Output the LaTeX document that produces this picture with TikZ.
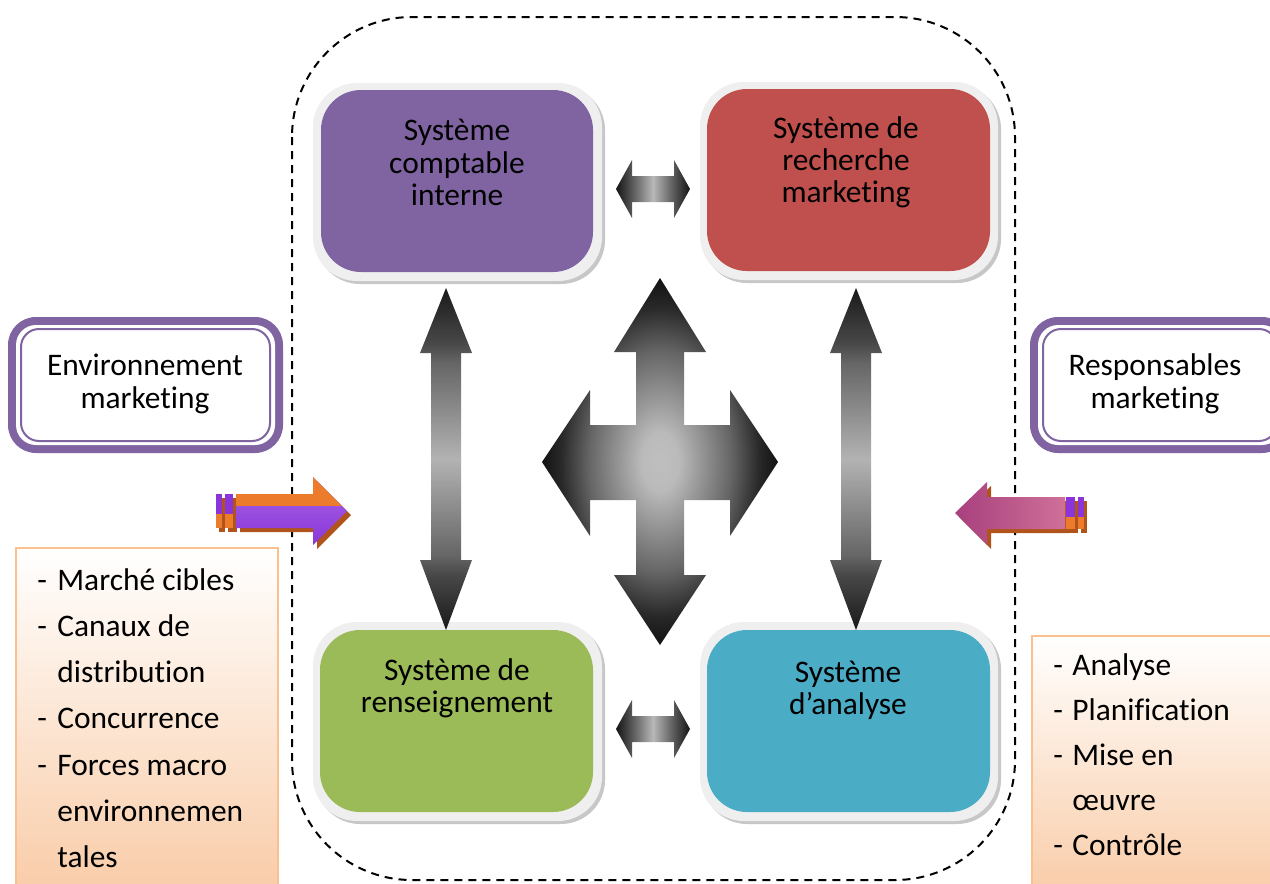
\documentclass[tikz,border=0pt]{standalone}
\usepackage{fontspec}
\setmainfont{Carlito}[Ligatures={TeX,NoCommon}]
\newcommand\lblfont{\fontsize{15.7}{16}\selectfont}
\definecolor{cpurple}{HTML}{8064A2}
\definecolor{cred}{HTML}{C0504D}
\definecolor{cgreen}{HTML}{9BBB59}
\definecolor{cblue}{HTML}{4BACC6}
\definecolor{corangeb}{HTML}{FAC090}
\definecolor{cpeach}{HTML}{F9CBA6}
\definecolor{arrorange}{HTML}{EC7C2C}
\definecolor{arrpurple}{HTML}{8A35DA}
\definecolor{arrshadow}{HTML}{B0541C}
\definecolor{arrpinkd}{HTML}{A8407E}
\definecolor{arrpinkl}{HTML}{CF7098}
\definecolor{rimgray}{HTML}{EFEFEF}
\pgfdeclareradialshading{crossshade}{\pgfpoint{0bp}{0bp}}{color(0bp)=(black!25); color(4bp)=(black!27); color(15bp)=(black!60); color(21bp)=(black!84); color(25bp)=(black!93); color(50bp)=(black!93)}
\pgfdeclareverticalshading{vsh}{100bp}{color(0bp)=(black!90); color(25bp)=(black!90); color(33bp)=(black!72); color(36bp)=(black!60); color(50bp)=(black!30); color(64bp)=(black!60); color(67bp)=(black!72); color(75bp)=(black!90); color(100bp)=(black!90)}
\pgfdeclarehorizontalshading{hsh}{100bp}{color(0bp)=(black!92); color(25bp)=(black!92); color(36bp)=(black!65); color(50bp)=(black!28); color(64bp)=(black!65); color(75bp)=(black!92); color(100bp)=(black!92)}
\tikzset{
  lbl/.style={font=\lblfont, inner sep=0pt, anchor=base},
  itm/.style={font=\lblfont, inner sep=0pt, anchor=base west},
  rimbox/.style={fill=rimgray, rounded corners=22pt},
  rimshadow/.style={fill=black!22, rounded corners=22pt},
  sysbox/.style={rounded corners=20pt},
  vshade/.style={shading=vsh},
  hshade/.style={shading=hsh},
  dashedframe/.style={line width=1pt, dash pattern=on 4pt off 3pt, rounded corners=60pt},
  listbox/.style={draw=corangeb, line width=1pt, top color=white, bottom color=cpeach},
}
\begin{document}
\begin{tikzpicture}[x=0.5pt,y=-0.5pt]
\useasboundingbox (0,0) rectangle (1270,884);

% dashed frame
\draw[dashedframe] (292,17) rectangle (1015,880);

% system boxes
\fill[rimshadow] (316,86) rectangle (605,284);
\fill[rimbox] (313,83) rectangle (602,281);
\fill[sysbox, fill=cpurple] (321,90) rectangle (593,272);

\fill[rimshadow] (703,85) rectangle (1001,283);
\fill[rimbox] (700,82) rectangle (998,280);
\fill[sysbox, fill=cred] (707,89) rectangle (990,271);

\fill[rimshadow] (316,625) rectangle (605,824);
\fill[rimbox] (313,622) rectangle (602,821);
\fill[sysbox, fill=cgreen] (320,630) rectangle (593,812);

\fill[rimshadow] (703,625) rectangle (1001,824);
\fill[rimbox] (700,622) rectangle (998,821);
\fill[sysbox, fill=cblue] (707,630) rectangle (990,812);

\node[lbl] (p1) at (457,140) {Système};
\node[lbl] (p2) at (457,173) {comptable};
\node[lbl] (p3) at (457,205) {interne};
\node[lbl] (r1) at (846,138.5) {Système de};
\node[lbl] (r2) at (846,170.5) {recherche};
\node[lbl] (r3) at (846,202.5) {marketing};
\node[lbl] (g1) at (457,680.5) {Système de};
\node[lbl] (g2) at (457,712.5) {renseignement};
\node[lbl] (b1) at (848,682.5) {Système};
\node[lbl] (b2) at (848,714.5) {d’analyse};

% vertical double arrows
\foreach \cx in {446,856}{
  \shade[vshade] (\cx,288) -- ({\cx+26},353) -- ({\cx+15},353) -- ({\cx+15},560) -- ({\cx+26},560) -- (\cx,630)
    -- ({\cx-26},560) -- ({\cx-15},560) -- ({\cx-15},353) -- ({\cx-26},353) -- cycle;
}
% small horizontal double arrows
\foreach \cy in {189,729}{
  \shade[hshade] (616,\cy) -- (632,{\cy-29}) -- (632,{\cy-13}) -- (674,{\cy-13}) -- (674,{\cy-29}) -- (690,\cy)
    -- (674,{\cy+29}) -- (674,{\cy+13}) -- (632,{\cy+13}) -- (632,{\cy+29}) -- cycle;
}
% four-way arrow
\shade[shading=crossshade] (660,278) -- (706,352) -- (684,352) -- (684,425) -- (730,425) -- (730,390) -- (778,462)
  -- (730,536) -- (730,500) -- (684,500) -- (684,575) -- (706,575) -- (660,645) -- (614,575) -- (636,575)
  -- (636,500) -- (590,500) -- (590,536) -- (542,462) -- (590,390) -- (590,425) -- (636,425) -- (636,352)
  -- (614,352) -- cycle;

% environment box
\fill[cpurple, rounded corners=14pt] (8,317) rectangle (283,453);
\fill[white, rounded corners=10pt] (16,325) rectangle (275,445);
\draw[cpurple, line width=1pt, rounded corners=9pt] (21,329) rectangle (270,441);
\node[lbl] (e1) at (145,375) {Environnement};
\node[lbl] (e2) at (145,408) {marketing};

% responsables box
\fill[cpurple, rounded corners=14pt] (1030,317) rectangle (1290,453);
\fill[white, rounded corners=10pt] (1038,325) rectangle (1282,445);
\draw[cpurple, line width=1pt, rounded corners=9pt] (1043,329) rectangle (1277,441);
\node[lbl] (s1) at (1155,375) {Responsables};
\node[lbl] (s2) at (1155,408) {marketing};

% list boxes
\shade[listbox] (16,548) rectangle (278,900);
\node[itm] (l1) at (37,590) {\makebox[10pt][l]{-}Marché cibles};
\node[itm] (l2) at (37,636.3) {\makebox[10pt][l]{-}Canaux de};
\node[itm] (l3) at (57,682.6) {distribution};
\node[itm] (l4) at (37,728.9) {\makebox[10pt][l]{-}Concurrence};
\node[itm] (l5) at (37,775.2) {\makebox[10pt][l]{-}Forces macro};
\node[itm] (l6) at (57,821.5) {environnemen};
\node[itm] (l7) at (57,867.8) {tales};

\shade[listbox] (1032,636) rectangle (1290,900);
\node[itm] (m1) at (1053,675) {\makebox[9.5pt][l]{-}Analyse};
\node[itm] (m2) at (1053,720) {\makebox[9.5pt][l]{-}Planification};
\node[itm] (m3) at (1053,765) {\makebox[9.5pt][l]{-}Mise en};
\node[itm] (m4) at (1072,810) {œuvre};
\node[itm] (m5) at (1053,855) {\makebox[9.5pt][l]{-}Contrôle};

% left input arrow
\fill[arrshadow] (240,498) -- (317,498) -- (317,481) -- (351,515) -- (317,549) -- (317,532) -- (240,532) -- cycle;
\fill[arrshadow] (219,498) rectangle (225,532);
\fill[arrshadow] (228,498) rectangle (237,532);
\shade[top color=arrpurple!75!white, bottom color=arrpurple] (236,494) -- (313,494) -- (313,477) -- (347,511) -- (313,545) -- (313,528) -- (236,528) -- cycle;
\begin{scope}
  \clip (200,470) rectangle (360,505);
  \fill[arrorange] (236,494) -- (313,494) -- (313,477) -- (347,511) -- (313,545) -- (313,528) -- (236,528) -- cycle;
\end{scope}
\fill[arrpurple] (216,494) rectangle (222,514);
\fill[arrorange] (216,514) rectangle (222,528);
\fill[arrpurple] (225,494) rectangle (233,514);
\fill[arrorange] (225,514) rectangle (233,528);

% right input arrow
\fill[arrshadow] (991,501) -- (1069,501) -- (1069,533) -- (991,533) -- (991,549) -- (959,517) -- (991,486) -- cycle;
\fill[arrshadow] (1069,501) rectangle (1078,533);
\fill[arrshadow] (1081,501) rectangle (1087,533);
\shade[left color=arrpinkd, right color=arrpinkl] (987,497) -- (1065,497) -- (1065,529) -- (987,529) -- (987,545) -- (955,513) -- (987,482) -- cycle;
\fill[arrpurple] (1066,497) rectangle (1075,517);
\fill[arrorange] (1066,517) rectangle (1075,529);
\fill[arrpurple] (1078,497) rectangle (1084,517);
\fill[arrorange] (1078,517) rectangle (1084,529);
\end{tikzpicture}
\end{document}
